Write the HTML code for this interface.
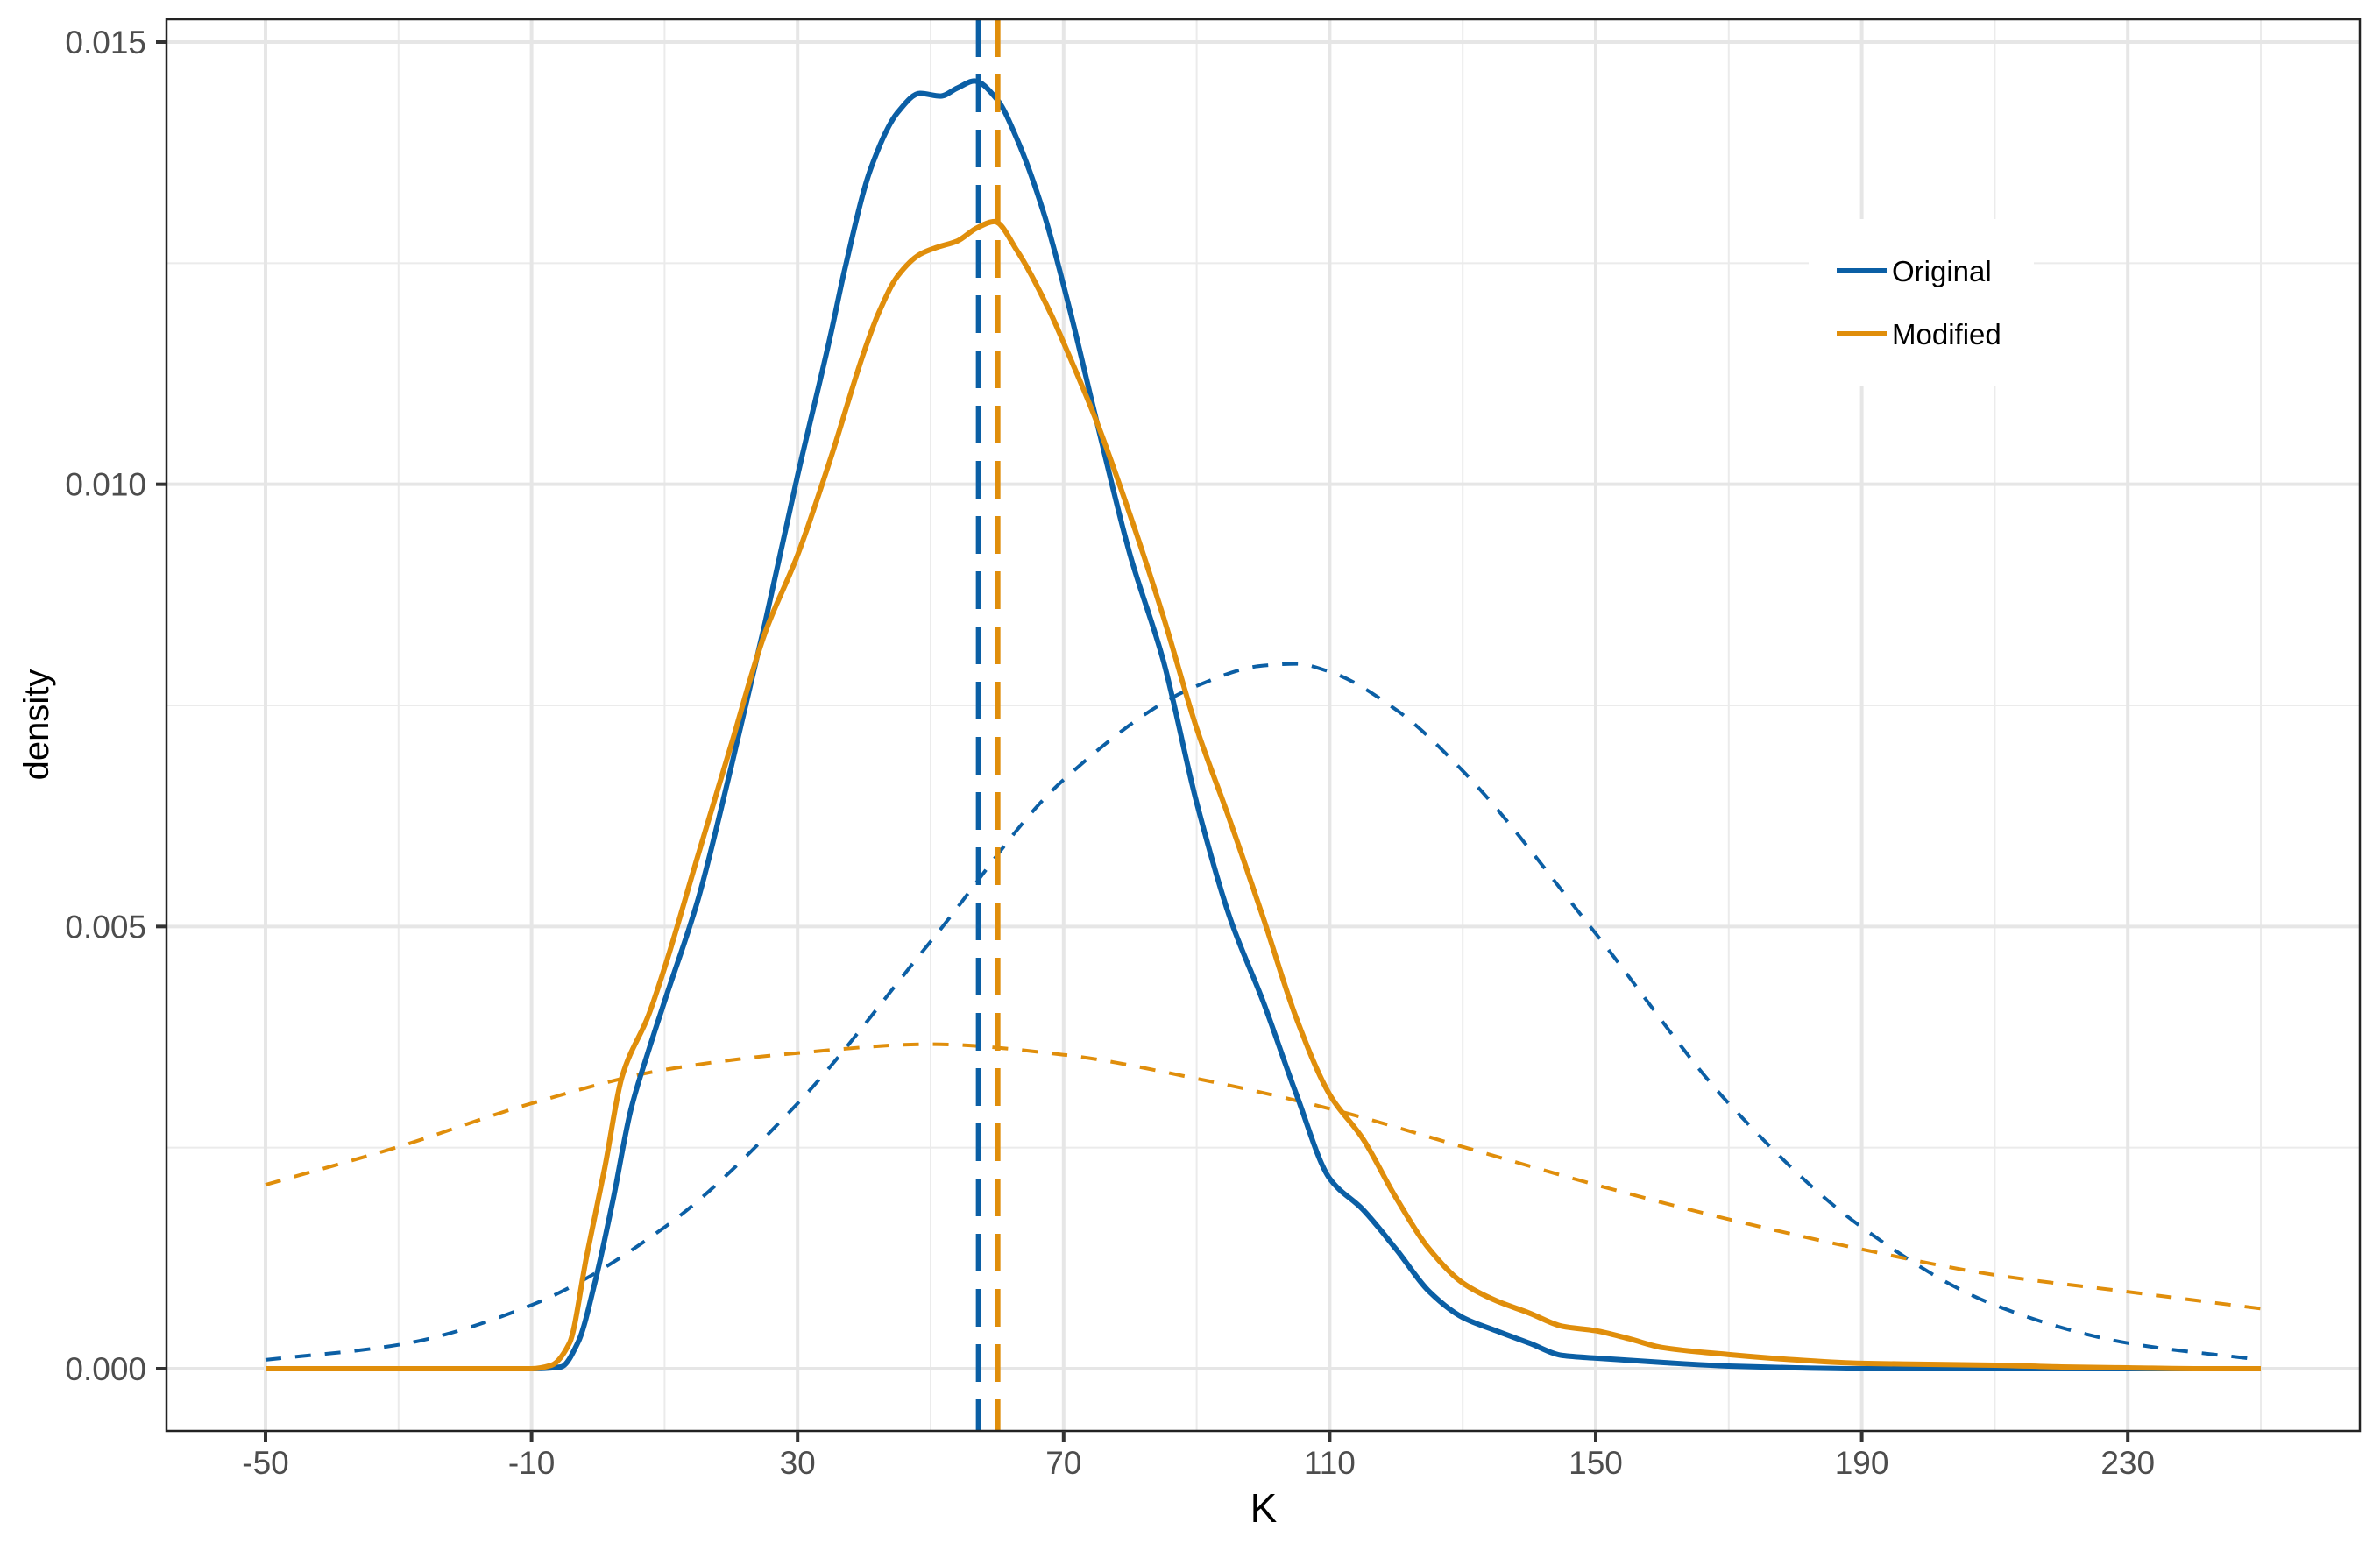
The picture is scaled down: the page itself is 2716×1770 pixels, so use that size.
<!DOCTYPE html>
<html><head><meta charset="utf-8"><style>
html,body{margin:0;padding:0;background:#fff;}
svg{display:block;font-family:"Liberation Sans",Arial,sans-serif;}
</style></head><body>
<svg id="chart" width="2716" height="1770" viewBox="0 0 2716 1770" xmlns="http://www.w3.org/2000/svg">
<rect x="0" y="0" width="2716" height="1770" fill="#fff"/>
<g id="grid"></g>
<g id="series"></g>
<rect x="190" y="22" width="2503" height="1611" fill="none" stroke="#222" stroke-width="2.5"/>
<g id="axes"></g>
<text x="1442" y="1737" font-size="46" text-anchor="middle" fill="#000">K</text>
<text x="55" y="827" font-size="40" text-anchor="middle" fill="#000" transform="rotate(-90 55 827)">density</text>
<g>
<rect x="2064" y="250" width="257" height="190" fill="#fff"/>
<g>
<line x1="2096" y1="309" x2="2153" y2="309" stroke="#0B5FA5" stroke-width="6"/>
<text x="2159" y="321" font-size="33" fill="#000">Original</text>
</g>
<g>
<line x1="2096" y1="381" x2="2153" y2="381" stroke="#E08E0B" stroke-width="6"/>
<text x="2159" y="393" font-size="33" fill="#000">Modified</text>
</g>
</g>
</svg>
<script>
const xTicks = [-50,-10,30,70,110,150,190,230];
const xMinor = [-30,10,50,90,130,170,210,250];
const yTicks = [0,0.005,0.010,0.015];
const yTickLabels = ["0.000","0.005","0.010","0.015"];
const yMinor = [0.0025,0.0075,0.0125];

const origX = [-50,-20,-10,-5.6,-3,-0.4,2.3,4.9,7.6,10.2,15,20,25,30,35,37,41,45,48.4,51.5,54,56.6,60,63,67,71,75,80,85,90,95,100,105,110,115,120,125,130,135,140,145,150,160,170,180,190,250];
const origY = [0,0,0,0.02,0.3,1.0,1.93,2.92,3.6,4.2,5.3,6.8,8.4,10.1,11.7,12.4,13.57,14.2,14.42,14.39,14.48,14.56,14.35,13.9,13.07,11.95,10.7,9.2,8.0,6.4,5.1,4.15,3.1,2.15,1.8,1.35,0.87,0.58,0.43,0.29,0.15,0.12,0.07,0.03,0.01,0,0];
const modX = [-50,-20,-10,-7,-4.3,-1.7,1,3.6,7.6,10.2,15,20,25,30,35,40,42.2,45,48.4,51,54,57,59.6,63,68,70,75,80,85,90,95,100,105,110,115,120,125,130,135,140,145,150,155,160,170,180,190,200,210,220,230,240,250];
const modY = [0,0,0,0.04,0.29,1.28,2.27,3.3,4.0,4.58,5.8,7.05,8.3,9.2,10.3,11.5,11.94,12.35,12.6,12.68,12.75,12.9,12.97,12.64,11.94,11.6,10.7,9.65,8.5,7.24,6.2,5.1,3.96,3.1,2.6,1.93,1.35,0.97,0.77,0.63,0.48,0.43,0.34,0.24,0.16,0.1,0.06,0.05,0.04,0.02,0.01,0,0];
const normX = [-50,-30,-10,10,30,50,70,90,100,105,110,120,130,150,170,190,210,230,250];
const normOrigY = [0.1,0.27,0.72,1.6,3.0,4.83,6.66,7.72,7.95,7.97,7.88,7.45,6.76,4.92,3.0,1.6,0.72,0.29,0.1];
const normModX = [-50,-30,-10,10,30,50,70,90,110,130,150,170,190,210,230,250];
const normModY = [2.08,2.51,3.0,3.38,3.57,3.67,3.55,3.28,2.94,2.51,2.08,1.69,1.35,1.06,0.87,0.68];
const origMean = 57.2;
const modMean = 60.1;

const NS = "http://www.w3.org/2000/svg";
function sx(v){ return 303 + (v + 50) * (2580 - 303) / 300; }
function sy(v){ return 1562 - v * (1562 - 48) / 0.015; }
function mk(tag, attrs, parent){ const e = document.createElementNS(NS, tag); for (const k in attrs) e.setAttribute(k, attrs[k]); parent.appendChild(e); return e; }
function smoothPath(xs, ys){
  const px = xs.map(sx), py = ys.map(v=>sy(v/1000));
  const n = px.length;
  const dx = [], m = [];
  for (let i=0;i<n-1;i++){ dx.push(px[i+1]-px[i]); m.push((py[i+1]-py[i])/dx[i]); }
  const t = new Array(n);
  t[0] = m[0]; t[n-1] = m[n-2];
  for (let i=1;i<n-1;i++){
    if (m[i-1]*m[i] <= 0) t[i] = 0;
    else { const w1 = 2*dx[i]+dx[i-1], w2 = dx[i]+2*dx[i-1]; t[i] = (w1+w2)/(w1/m[i-1]+w2/m[i]); }
  }
  let d = "M" + px[0].toFixed(1) + "," + py[0].toFixed(1);
  for (let i=0;i<n-1;i++){
    const h = dx[i]/3;
    d += " C"+(px[i]+h).toFixed(1)+","+(py[i]+t[i]*h).toFixed(1)+" "+(px[i+1]-h).toFixed(1)+","+(py[i+1]-t[i+1]*h).toFixed(1)+" "+px[i+1].toFixed(1)+","+py[i+1].toFixed(1);
  }
  return d;
}
const grid = document.getElementById("grid");
const axes = document.getElementById("axes");
const series = document.getElementById("series");
yMinor.forEach(v=>{
  const l = mk("line",{x1:190,x2:2693,y1:sy(v),y2:sy(v),stroke:"#ebebeb","stroke-width":2},grid);
  
  
});
xMinor.forEach(v=>{
  const l = mk("line",{x1:sx(v),x2:sx(v),y1:22,y2:1633,stroke:"#ebebeb","stroke-width":2},grid);
  
  
});
yTicks.forEach((v,i)=>{
  const l = mk("line",{x1:190,x2:2693,y1:sy(v),y2:sy(v),stroke:"#e6e6e6","stroke-width":4},grid);
  
  
  const t = mk("line",{x1:178,x2:190,y1:sy(v),y2:sy(v),stroke:"#333","stroke-width":4},axes);
  
  
  const tx = mk("text",{x:167,y:sy(v)+13,"font-size":37,"text-anchor":"end",fill:"#4d4d4d"},axes);
  tx.textContent = yTickLabels[i];
  
  
});
xTicks.forEach(v=>{
  const l = mk("line",{x1:sx(v),x2:sx(v),y1:22,y2:1633,stroke:"#e6e6e6","stroke-width":4},grid);
  
  
  const t = mk("line",{x1:sx(v),x2:sx(v),y1:1633,y2:1646,stroke:"#333","stroke-width":4},axes);
  
  
  const tx = mk("text",{x:sx(v),y:1682,"font-size":37,"text-anchor":"middle",fill:"#4d4d4d"},axes);
  tx.textContent = String(v);
  
  
});
const nO = mk("path",{d:smoothPath(normX,normOrigY),fill:"none",stroke:"#0B5FA5","stroke-width":4,"stroke-dasharray":"18 16"},series);


const nM = mk("path",{d:smoothPath(normModX,normModY),fill:"none",stroke:"#E08E0B","stroke-width":4,"stroke-dasharray":"18 16"},series);


const dO = mk("path",{d:smoothPath(origX,origY),fill:"none",stroke:"#0B5FA5","stroke-width":6},series);


const dM = mk("path",{d:smoothPath(modX,modY),fill:"none",stroke:"#E08E0B","stroke-width":6},series);


const vO = mk("line",{x1:sx(origMean),x2:sx(origMean),y1:22,y2:1633,stroke:"#0B5FA5","stroke-width":6,"stroke-dasharray":"43 20"},series);


const vM = mk("line",{x1:sx(modMean),x2:sx(modMean),y1:22,y2:1633,stroke:"#E08E0B","stroke-width":6,"stroke-dasharray":"43 20"},series);


</script>
</body></html>
